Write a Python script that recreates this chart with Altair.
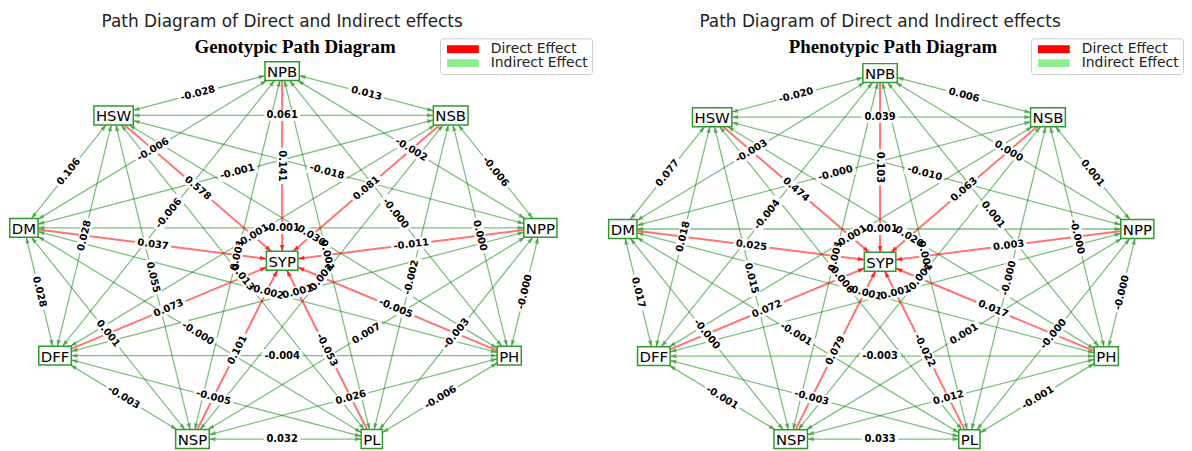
import math
import altair as alt
import pandas as pd

# ---------------- data ----------------
NODES = ["NPB", "NSB", "NPP", "PH", "PL", "NSP", "DFF", "DM", "HSW"]
CENTER = "SYP"
PANELS = ["Genotypic", "Phenotypic"]
SUBTITLES = ["Genotypic Path Diagram", "Phenotypic Path Diagram"]
MAIN_TITLE = "Path Diagram of Direct and Indirect effects"
LEGEND_LABELS = ["Direct Effect", "Indirect Effect"]
LEGEND_COLORS = ["#ff0000", "#90ee90"]

# direct effects of each trait on SYP (same order as NODES)
GENO_DIRECT = [0.141, 0.081, -0.011, -0.005, -0.053, 0.101, 0.073, 0.037, 0.578]
PHENO_DIRECT = [0.103, 0.063, 0.003, 0.017, -0.022, 0.079, 0.072, 0.025, 0.474]

# indirect effects between traits
PAIR_FROM = ["NPB", "NPB", "NPB", "NPB", "NPB", "NPB", "NPB", "NPB",
             "NSB", "NSB", "NSB", "NSB", "NSB", "NSB", "NSB",
             "NPP", "NPP", "NPP", "NPP", "NPP", "NPP",
             "PH", "PH", "PH", "PH", "PH",
             "PL", "PL", "PL", "PL",
             "NSP", "NSP", "NSP",
             "DFF", "DFF",
             "DM"]
PAIR_TO = ["NSB", "NPP", "PH", "PL", "NSP", "DFF", "DM", "HSW",
           "NPP", "PH", "PL", "NSP", "DFF", "DM", "HSW",
           "PH", "PL", "NSP", "DFF", "DM", "HSW",
           "PL", "NSP", "DFF", "DM", "HSW",
           "NSP", "DFF", "DM", "HSW",
           "DFF", "DM", "HSW",
           "DM", "HSW",
           "HSW"]
GENO_INDIRECT = [0.013, -0.002, -0.0, 0.001, 0.001, -0.006, -0.006, -0.028,
                 -0.006, 0.000, -0.002, 0.002, -0.001, -0.001, 0.061,
                 -0.0, -0.003, 0.007, 0.001, -0.001, -0.018,
                 -0.006, 0.026, -0.004, -0.002, 0.030,
                 0.032, -0.005, -0.0, 0.013,
                 -0.003, 0.001, 0.055,
                 0.028, 0.028,
                 0.106]
PHENO_INDIRECT = [0.006, 0.000, 0.001, 0.001, 0.001, -0.004, -0.003, -0.020,
                  0.001, -0.0, -0.0, -0.001, -0.001, -0.0, 0.039,
                  -0.0, -0.0, 0.001, 0.001, -0.001, -0.010,
                  -0.001, 0.012, -0.003, -0.001, 0.020,
                  0.033, -0.003, -0.001, -0.006,
                  -0.001, -0.0, 0.015,
                  0.017, 0.018,
                  0.077]

# ---------------- layout ----------------
W, H = 1184, 443
# circular layout per panel: centre x, centre y, radius x, radius y (plot units)
GEOM = [(276, 253, 264, 191), (878, 254, 263, 190)]
LEGEND_POS = [(435, 29), (1030, 29)]

NODE_FONT = 15
LABEL_FONT = 10
CW = {"N": .748, "P": .603, "B": .686, "S": .635, "H": .752, "W": .989,
      "D": .770, "M": .863, "F": .575, "L": .557, "Y": .611}


def node_w(name):
    return sum(CW[c] for c in name) * NODE_FONT + 4


def label_w(s):
    return sum(0.696 if c.isdigit() else (0.38 if c == "." else 0.415) for c in s) * LABEL_FONT


def text_angle(dx, dy):
    a = math.degrees(math.atan2(dy, dx))
    if a > 90:
        a -= 180
    elif a <= -90:
        a += 180
    return a % 360


def arrow_tip(s, t, hw, hh):
    dx, dy = t[0] - s[0], t[1] - s[1]
    L = math.hypot(dx, dy)
    ux, uy = dx / L, dy / L
    c1 = hw / abs(ux) if abs(ux) > 1e-9 else 1e9
    c2 = hh / abs(uy) if abs(uy) > 1e-9 else 1e9
    d = min(c1, c2)
    return t[0] - ux * d, t[1] - uy * d, math.degrees(math.atan2(uy, ux)) % 360


edges, arrows, labels, nodes, titles = [], [], [], [], []
for p, (direct, indirect) in enumerate(zip([GENO_DIRECT, PHENO_DIRECT],
                                           [GENO_INDIRECT, PHENO_INDIRECT])):
    cx, cy, rx, ry = GEOM[p]
    pos = {}
    for i, n in enumerate(NODES):
        th = math.radians(90 - 40 * i)
        pos[n] = (cx + rx * math.cos(th), cy - ry * math.sin(th))
    pos[CENTER] = (cx, cy)
    half = {n: (node_w(n) / 2, 9.5) for n in NODES + [CENTER]}

    def add_edge(a, b, v, kind, both):
        s, t = pos[a], pos[b]
        edges.append(dict(x=s[0], y=s[1], x2=t[0], y2=t[1], kind=kind))
        ends = [(s, t, b), (t, s, a)] if both else [(s, t, b)]
        for src, dst, nm in ends:
            ax, ay, aa = arrow_tip(src, dst, *half[nm])
            arrows.append(dict(x=ax, y=ay, ang=aa, kind=kind))
        txt = f"{v:.3f}"
        w = label_w(txt) + 5
        labels.append(dict(x=(s[0] + t[0]) / 2, y=(s[1] + t[1]) / 2,
                           ang=text_angle(t[0] - s[0], t[1] - s[1]),
                           label=txt, bs=w * w, kind=kind))

    for a, b, v in zip(PAIR_FROM, PAIR_TO, indirect):
        add_edge(a, b, v, "indirect", True)
    for n, v in zip(NODES, direct):
        add_edge(n, CENTER, v, "direct", False)

    for n in NODES + [CENTER]:
        x, y = pos[n]
        hw, hh = half[n]
        nodes.append(dict(name=n, x=x, y=y, x0=x - hw, x1=x + hw, y0=y - hh, y1=y + hh))
    titles.append(dict(text=MAIN_TITLE, x=cx, y=18, kind="main"))
    titles.append(dict(text=SUBTITLES[p], x=cx + 13, y=44, kind="sub"))

edges = pd.DataFrame(edges)
arrows = pd.DataFrame(arrows)
labels = pd.DataFrame(labels)
nodes = pd.DataFrame(nodes)
titles = pd.DataFrame(titles)

XS = alt.Scale(domain=[0, W], nice=False, zero=False)
YS = alt.Scale(domain=[0, H], nice=False, zero=False, reverse=True)


def X(f):
    return alt.X(f"{f}:Q", scale=XS, axis=None)


def Y(f):
    return alt.Y(f"{f}:Q", scale=YS, axis=None)


ARROW = "M0,0L-2,-0.75L-2,0.75Z"
BOX = "M-1,-0.3L1,-0.3L1,0.3L-1,0.3Z"
# legend patch: 32 x 8 px drawn from a small nominal symbol size
PATCH = "M-4,-1L4,-1L4,1L-4,1Z"

green_lines = alt.Chart(edges).transform_filter("datum.kind == 'indirect'").mark_rule(
    color="green", opacity=0.5, strokeWidth=1.3).encode(
    x=X("x"), y=Y("y"), x2="x2:Q", y2="y2:Q")
red_lines = alt.Chart(edges).transform_filter("datum.kind == 'direct'").mark_rule(
    color="red", opacity=0.55, strokeWidth=2).encode(
    x=X("x"), y=Y("y"), x2="x2:Q", y2="y2:Q")
green_arrows = alt.Chart(arrows).transform_filter("datum.kind == 'indirect'").mark_point(
    shape=ARROW, filled=True, color="green", opacity=0.5, size=40, strokeWidth=0).encode(
    x=X("x"), y=Y("y"), angle=alt.Angle("ang:Q", scale=None))
red_arrows = alt.Chart(arrows).transform_filter("datum.kind == 'direct'").mark_point(
    shape=ARROW, filled=True, color="red", opacity=0.7, size=42, strokeWidth=0).encode(
    x=X("x"), y=Y("y"), angle=alt.Angle("ang:Q", scale=None))
label_boxes = alt.Chart(labels).mark_point(
    shape=BOX, filled=True, color="white", opacity=1, strokeWidth=0).encode(
    x=X("x"), y=Y("y"), angle=alt.Angle("ang:Q", scale=None),
    size=alt.Size("bs:Q", scale=None))
label_text = alt.Chart(labels).mark_text(
    font="DejaVu Sans", fontWeight="bold", fontSize=LABEL_FONT, color="black",
    align="center", baseline="middle").encode(
    x=X("x"), y=Y("y"), angle=alt.Angle("ang:Q", scale=None), text="label:N")
node_boxes = alt.Chart(nodes).mark_rect(
    fill="white", stroke="#2e9a2e", strokeWidth=1.5).encode(
    x=X("x0"), x2="x1:Q", y=Y("y0"), y2="y1:Q")
node_text = alt.Chart(nodes).mark_text(
    font="DejaVu Sans", fontSize=NODE_FONT, color="black",
    align="center", baseline="middle", dy=1).encode(
    x=X("x"), y=Y("y"), text="name:N")
main_titles = alt.Chart(titles).transform_filter("datum.kind == 'main'").mark_text(
    font="DejaVu Sans", fontSize=17, color="#222222", align="center",
    baseline="alphabetic").encode(x=X("x"), y=Y("y"), text="text:N")
sub_titles = alt.Chart(titles).transform_filter("datum.kind == 'sub'").mark_text(
    font="Liberation Serif", fontWeight="bold", fontSize=19, color="black",
    align="center", baseline="alphabetic").encode(x=X("x"), y=Y("y"), text="text:N")

legend_df = pd.DataFrame({"effect": LEGEND_LABELS})


def legend_layer(lx, ly):
    return alt.Chart(legend_df).mark_point(
        filled=True, size=0, opacity=0).encode(
        x=alt.value(5), y=alt.value(5),
        color=alt.Color("effect:N",
                        scale=alt.Scale(domain=LEGEND_LABELS, range=LEGEND_COLORS),
                        legend=alt.Legend(
                            orient="none", legendX=lx, legendY=ly, title=None,
                            padding=4, strokeColor="#cccccc", fillColor="white",
                            cornerRadius=3, labelFont="DejaVu Sans", labelFontSize=14,
                            labelColor="#222222", symbolType=PATCH, symbolSize=64,
                            symbolStrokeWidth=0, symbolOpacity=1, symbolOffset=12,
                            labelOffset=21, rowPadding=0)))


legends = [legend_layer(*LEGEND_POS[0]), legend_layer(*LEGEND_POS[1])]

chart = alt.layer(
    green_lines, red_lines, green_arrows, red_arrows,
    label_boxes, label_text, node_boxes, node_text,
    main_titles, sub_titles, *legends
).resolve_scale(color="independent").properties(
    width=W, height=H, padding=0,
    autosize=alt.AutoSizeParams(type="none")
).configure_view(stroke=None)

chart.save("out.html", embed_options={"renderer": "svg", "actions": False})
